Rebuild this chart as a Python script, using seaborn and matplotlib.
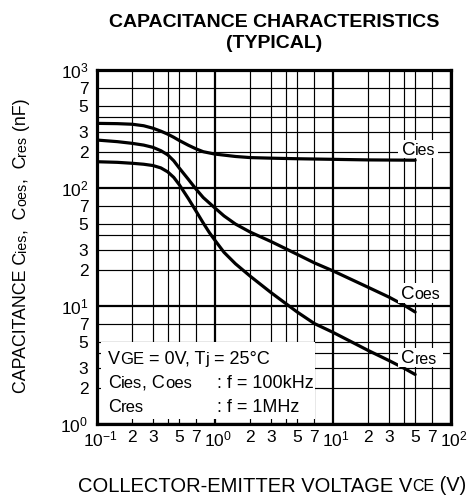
import numpy as np
import pandas as pd
import matplotlib
matplotlib.use("Agg")
import matplotlib.pyplot as plt
from matplotlib.patches import Rectangle
from matplotlib.ticker import FixedLocator, FixedFormatter
from matplotlib.transforms import ScaledTranslation
import seaborn as sns

# ---------------- data ----------------
cies_v = [0.1, 0.15, 0.2, 0.25, 0.3, 0.35, 0.4, 0.45, 0.5, 0.6, 0.7, 0.8, 1.0, 1.5, 2.0, 3.0, 5.0, 10.0, 20.0, 50.0]
cies_c = [353, 351, 347, 337, 321, 303, 286, 269, 253, 230, 214, 203, 194, 185, 181, 179, 177, 175, 173, 172]

coes_v = [0.1, 0.15, 0.2, 0.25, 0.3, 0.35, 0.4, 0.45, 0.5, 0.6, 0.7, 0.8, 1.0, 1.2, 1.5, 2.0, 3.0, 4.0, 5.0, 7.0, 10.0, 20.0, 30.0, 40.0, 50.0]
coes_c = [255, 247, 239, 231, 221, 207, 191, 170, 148, 118, 97, 83, 68, 58, 49.5, 42.3, 35.2, 30.6, 27.4, 23.2, 19.9, 14.4, 11.9, 10.2, 8.9]

cres_v = [0.1, 0.15, 0.2, 0.25, 0.3, 0.35, 0.4, 0.45, 0.5, 0.6, 0.7, 0.8, 0.9, 1.0, 1.2, 1.5, 2.0, 3.0, 4.0, 5.0, 7.0, 10.0, 20.0, 30.0, 40.0, 50.0]
cres_c = [167, 165, 162, 159, 155, 148, 137, 123, 107, 81, 63, 50.5, 42, 36.3, 28.5, 22.8, 17.9, 13.0, 10.5, 8.9, 7.1, 6.0, 4.2, 3.45, 2.98, 2.63]

x_major_ticks = [0.1, 1, 10, 100]
x_major_labels = [r'$10^{-1}$', r'$10^{0}$', r'$10^{1}$', r'$10^{2}$']
y_major_ticks = [1, 10, 100, 1000]
y_major_labels = [r'$10^{0}$', r'$10^{1}$', r'$10^{2}$', r'$10^{3}$']
minor_mult = [2, 3, 4, 5, 7]
minor_labels = ['2', '3', '', '5', '7']

# ---------------- style ----------------
sns.set_theme(style="white")
plt.rcParams['font.family'] = ['Liberation Sans', 'DejaVu Sans']
plt.rcParams['mathtext.fontset'] = 'custom'
plt.rcParams['mathtext.rm'] = 'Liberation Sans'
plt.rcParams['mathtext.it'] = 'Liberation Sans:italic'
plt.rcParams['mathtext.bf'] = 'Liberation Sans:bold'
plt.rcParams['text.color'] = 'black'

fig = plt.figure(figsize=(4.73, 4.95), dpi=100)
ax = fig.add_axes([0.2044, 0.1434, 0.7484, 0.7152])

for v, c in [(cies_v, cies_c), (coes_v, coes_c), (cres_v, cres_c)]:
    d = pd.DataFrame({'V': v, 'C': c})
    sns.lineplot(data=d, x='V', y='C', color='black', lw=2.3, ax=ax,
                 estimator=None, sort=False, zorder=2)

ax.set_xscale('log')
ax.set_yscale('log')
ax.set_xlim(0.1, 100)
ax.set_ylim(1, 1000)
ax.set_xlabel('')
ax.set_ylabel('')

# ticks
TICK_FS = 12.5
ax.xaxis.set_major_locator(FixedLocator(x_major_ticks))
ax.xaxis.set_major_formatter(FixedFormatter(x_major_labels))
ax.yaxis.set_major_locator(FixedLocator(y_major_ticks))
ax.yaxis.set_major_formatter(FixedFormatter(y_major_labels))
xm = [m * d for d in x_major_ticks[:-1] for m in minor_mult]
ym = [m * d for d in y_major_ticks[:-1] for m in minor_mult]
ax.xaxis.set_minor_locator(FixedLocator(xm))
ax.xaxis.set_minor_formatter(FixedFormatter(minor_labels * 3))
ax.yaxis.set_minor_locator(FixedLocator(ym))
ax.yaxis.set_minor_formatter(FixedFormatter(minor_labels * 3))
ax.tick_params(which='both', length=0, labelsize=TICK_FS, labelcolor='black')
ax.tick_params(axis='x', which='both', pad=4)
ax.tick_params(axis='y', which='both', pad=6)

ax.set_axisbelow(True)
ax.grid(True, which='major', color='black', lw=1.6)
ax.grid(True, which='minor', color='black', lw=0.85)
for s in ax.spines.values():
    s.set_color('black')
    s.set_linewidth(2.3)
    s.set_zorder(6)

# decade labels sit a touch right of their ticks, as in the reference
fig.canvas.draw()
for lbl in ax.xaxis.get_majorticklabels():
    lbl.set_transform(lbl.get_transform() +
                      ScaledTranslation(2.5 / 72, 0, fig.dpi_scale_trans))

DESC = 0.21  # descent of the font, in em


def rich(x, y, parts, transform, rotation=0, zorder=5):
    """Draw a run of text segments that share one baseline."""
    s, fs = parts[0]
    if rotation:
        t = ax.text(x, y, s, transform=transform, fontsize=fs, rotation=90,
                    ha='right', va='bottom', zorder=zorder, clip_on=False)
    else:
        t = ax.text(x, y, s, transform=transform, fontsize=fs,
                    ha='left', va='baseline', zorder=zorder, clip_on=False)
    prev_fs = fs
    for s, fs in parts[1:]:
        if rotation:
            dx = DESC * fs - DESC * prev_fs
            t = ax.annotate(s, xy=(1, 1), xycoords=t, fontsize=fs, rotation=90,
                            xytext=(dx, 0), textcoords='offset points',
                            ha='right', va='bottom', zorder=zorder,
                            annotation_clip=False)
        else:
            dy = DESC * prev_fs
            t = ax.annotate(s, xy=(1, 0), xycoords=t, fontsize=fs,
                            xytext=(0, dy), textcoords='offset points',
                            ha='left', va='baseline', zorder=zorder,
                            annotation_clip=False)
        prev_fs = fs
    return t


# curve labels with white backgrounds
BIG, SUB = 13.5, 11.5
for (bx, by, bw, bh), (tx, ty), sub in [
        ((0.851, 0.751, 0.112, 0.050), (0.862, 0.760), 'ies'),
        ((0.851, 0.342, 0.126, 0.056), (0.860, 0.352), 'oes'),
        ((0.851, 0.161, 0.126, 0.054), (0.860, 0.171), 'res')]:
    ax.add_patch(Rectangle((bx, by), bw, bh, transform=ax.transAxes,
                           facecolor='white', edgecolor='none', zorder=3))
    rich(tx, ty, [('C', BIG), (sub, SUB)], ax.transAxes, zorder=5)

# condition box
ax.add_patch(Rectangle((0.012, 0.014), 0.605, 0.218, transform=ax.transAxes,
                       facecolor='white', edgecolor='none', zorder=3))
L, S = 13, 12
COLON_X = 0.340
rich(0.032, 0.169, [('V', L), ('GE', S), (' = 0V, T', L), ('j', S), (' = 25°C', L)], ax.transAxes)
rich(0.032, 0.102, [('C', L), ('ies', S), (', C', L), ('oes', S)], ax.transAxes)
ax.text(COLON_X, 0.102, ': f = 100kHz', transform=ax.transAxes, fontsize=L,
        ha='left', va='baseline', zorder=5)
rich(0.032, 0.034, [('C', L), ('res', S)], ax.transAxes)
ax.text(COLON_X, 0.034, ': f = 1MHz', transform=ax.transAxes, fontsize=L,
        ha='left', va='baseline', zorder=5)

# title
fig.text(0.579, 0.9448, 'CAPACITANCE CHARACTERISTICS', ha='center', va='baseline',
         fontsize=14, fontweight='bold')
fig.text(0.579, 0.904, '(TYPICAL)', ha='center', va='baseline',
         fontsize=14, fontweight='bold')

# axis labels
rich(0.165, 0.0067, [('COLLECTOR-EMITTER VOLTAGE V', 14.5), ('CE', 11.5), (' (V)', 14.5)],
     fig.transFigure)
rich(0.0634, 0.206, [('CAPACITANCE C', 12.8), ('ies', 10.3), (',  C', 12.8), ('oes', 10.3),
                     (',  C', 12.8), ('res', 10.3), (' (nF)', 12.8)],
     fig.transFigure, rotation=90)

fig.savefig('out.png', dpi=100)
